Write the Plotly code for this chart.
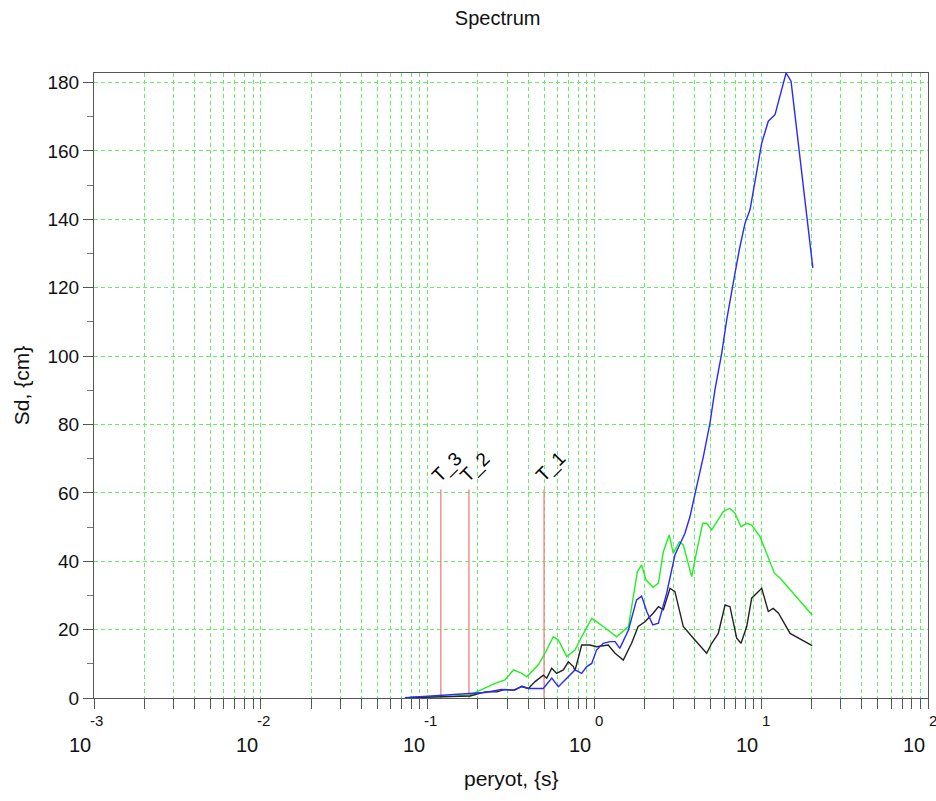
import math
import plotly.graph_objects as go

# ---------------- data ----------------
blue_T = [0.073, 0.084, 0.146, 0.221, 0.278, 0.334, 0.367, 0.402, 0.494, 0.555, 0.608,
          0.698, 0.765, 0.839, 0.899, 0.964, 1.03, 1.13, 1.24, 1.33, 1.42, 1.60, 1.79,
          1.92, 2.06, 2.24, 2.42, 2.71, 3.04, 3.49, 3.74, 4.10, 4.50, 4.93, 5.28, 5.80,
          6.21, 6.80, 7.39, 8.00, 8.57, 10.07, 11.03, 12.1, 14.1, 15.1, 20.4]
blue_Sd = [0.1, 0.3, 0.9, 1.6, 2.5, 2.3, 3.5, 2.8, 2.8, 5.8, 3.3,
           6.2, 8.2, 7.2, 9.2, 10.1, 14.0, 16.0, 16.5, 16.5, 14.5, 19.9, 28.7,
           29.8, 25.3, 21.4, 21.9, 30.6, 41.8, 48.2, 53.0, 61.8, 70.6, 80.4, 90.1, 100.9,
           110.6, 121.4, 131.1, 138.9, 142.8, 162.3, 168.7, 170.6, 182.8, 180.4, 125.8]

green_T = [0.078, 0.146, 0.180, 0.221, 0.254, 0.291, 0.327, 0.367, 0.393, 0.461, 0.506,
           0.567, 0.608, 0.683, 0.765, 0.839, 0.964, 1.13, 1.36, 1.60, 1.81, 1.92, 2.04,
           2.25, 2.42, 2.59, 2.81, 2.97, 3.23, 3.41, 3.83, 4.10, 4.46, 4.71, 5.05, 5.93,
           6.50, 6.97, 7.57, 8.19, 8.77, 9.84, 10.8, 12.0, 13.0, 20.2]
green_Sd = [0.2, 0.5, 0.9, 2.8, 4.3, 5.3, 8.2, 7.2, 6.2, 9.7, 13.1,
            17.9, 17.0, 12.1, 14.0, 17.9, 23.3, 20.9, 17.9, 20.9, 37.0, 38.9, 34.5,
            32.4, 33.6, 42.8, 47.7, 42.3, 45.7, 44.8, 35.5, 42.8, 51.1, 51.1, 49.2, 54.5,
            55.5, 54.0, 50.1, 51.1, 50.6, 47.2, 42.3, 36.5, 35.0, 24.3]

black_T = [0.078, 0.180, 0.221, 0.260, 0.291, 0.327, 0.367, 0.402, 0.441, 0.494, 0.518,
           0.555, 0.594, 0.651, 0.698, 0.748, 0.765, 0.839, 0.941, 1.03, 1.21, 1.33,
           1.49, 1.67, 1.83, 2.01, 2.25, 2.42, 2.59, 2.84, 3.04, 3.41, 3.92, 4.71, 5.05,
           5.53, 6.07, 6.50, 7.13, 7.57, 8.19, 8.77, 10.07, 11.03, 11.8, 12.7, 14.9, 20.2]
black_Sd = [0.1, 0.6, 1.8, 1.8, 2.5, 2.3, 3.3, 2.8, 4.8, 6.7, 5.8,
            8.7, 7.2, 8.2, 10.6, 9.2, 8.0, 15.5, 15.5, 15.0, 15.5, 13.1,
            11.1, 16.0, 20.9, 22.3, 24.8, 26.7, 25.8, 32.1, 31.1, 20.9, 17.5, 13.1, 16.0,
            18.9, 27.2, 26.7, 17.5, 16.0, 20.9, 29.2, 32.1, 25.3, 26.2, 24.8, 18.9, 15.3]

mode_T = [0.499, 0.177, 0.120]
mode_labels = ["T_1", "T_2", "T_3"]
mode_line_height = 61

x_decades = [-3, -2, -1, 0, 1, 2]
y_ticks = [0, 20, 40, 60, 80, 100, 120, 140, 160, 180]
y_max = 182.8

FONT = "Liberation Sans, Arial, Helvetica, sans-serif"
GRID = "#66ee66"
GRID_DASH = "4px,3px"

fig = go.Figure()

# red mode lines
lx, ly = [], []
for t in mode_T:
    lx += [t, t, None]
    ly += [0, mode_line_height, None]
fig.add_trace(go.Scatter(x=lx, y=ly, mode="lines",
                         line=dict(color="#f08080", width=1.3), hoverinfo="skip"))

fig.add_trace(go.Scatter(x=green_T, y=green_Sd, mode="lines",
                         line=dict(color="#22ee22", width=1.4)))
fig.add_trace(go.Scatter(x=black_T, y=black_Sd, mode="lines",
                         line=dict(color="#222222", width=1.4)))
fig.add_trace(go.Scatter(x=blue_T, y=blue_Sd, mode="lines",
                         line=dict(color="#2828ff", width=1.4)))

# x tick values: all 1..9 multiples of each decade
x_tickvals = []
for e in x_decades:
    for m in range(1, 10):
        if e == x_decades[-1] and m > 1:
            break
        x_tickvals.append(m * 10.0 ** e)

fig.update_xaxes(type="log", range=[x_decades[0], x_decades[-1]],
                 tickvals=x_tickvals, ticktext=[""] * len(x_tickvals),
                 ticks="outside", ticklen=10, tickcolor="#555", tickwidth=1,
                 showgrid=True, gridcolor=GRID, griddash=GRID_DASH, gridwidth=1,
                 showline=True, linecolor="#555", linewidth=1, mirror=True,
                 zeroline=False)

fig.update_yaxes(range=[0, y_max], tickvals=y_ticks,
                 ticks="outside", ticklen=10, tickcolor="#555", tickwidth=1,
                 minor=dict(dtick=10, ticks="outside", ticklen=6, tickcolor="#777", showgrid=False),
                 showgrid=True, gridcolor=GRID, griddash=GRID_DASH, gridwidth=1,
                 showline=True, linecolor="#555", linewidth=1, mirror=True,
                 zeroline=False,
                 tickfont=dict(family=FONT, size=19, color="#111"),
                 title=dict(text="Sd, {cm}", font=dict(family=FONT, size=21, color="#111"),
                            standoff=12))

annotations = []
for e in x_decades:
    annotations.append(dict(x=e, y=0, xref="x", yref="paper", text="10",
                            showarrow=False, xanchor="right", yanchor="middle",
                            xshift=-1, yshift=-47,
                            font=dict(family=FONT, size=20, color="#111")))
    annotations.append(dict(x=e, y=0, xref="x", yref="paper",
                            text=("-" if e < 0 else "") + str(abs(e)),
                            showarrow=False, xanchor="left", yanchor="middle",
                            xshift=(-6 if e < 0 else -1), yshift=-22,
                            font=dict(family=FONT, size=15, color="#111")))
# x axis title
annotations.append(dict(x=0.5, y=0, xref="paper", yref="paper", text="peryot, {s}",
                        showarrow=False, xanchor="center", yanchor="middle",
                        yshift=-80, font=dict(family=FONT, size=21, color="#111")))
for t, lab in zip(mode_T, mode_labels):
    annotations.append(dict(x=math.log10(t), y=mode_line_height, xref="x", yref="y",
                            text=lab, showarrow=False, textangle=-45,
                            xanchor="center", yanchor="middle",
                            xshift=7, yshift=22,
                            font=dict(family=FONT, size=19, color="#000")))

fig.update_layout(
    width=936, height=801,
    margin=dict(l=94, r=8, t=73, b=103),
    paper_bgcolor="white", plot_bgcolor="white",
    showlegend=False,
    title=dict(text="Spectrum", x=0.484, xref="paper", xanchor="center",
               y=1, yref="container", yanchor="top", pad=dict(t=11),
               font=dict(family=FONT, size=20, color="#111")),
    annotations=annotations,
)

fig.write_html("out.html")
